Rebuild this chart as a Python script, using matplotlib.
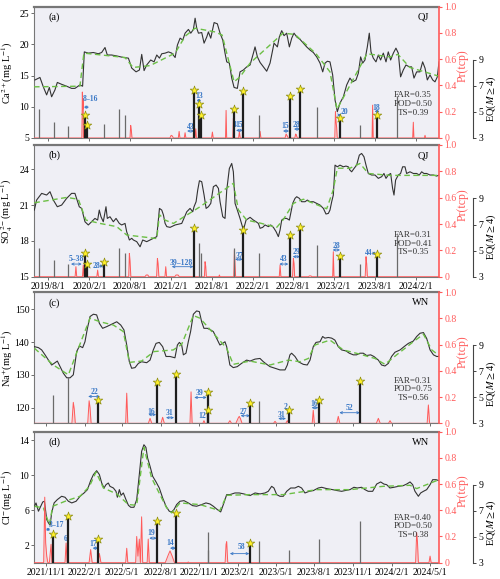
import matplotlib.pyplot as plt
import matplotlib.dates as mdates
import pandas as pd

plt.rcParams['font.family'] = 'serif'
plt.rcParams['font.serif'] = ['Liberation Serif', 'DejaVu Serif']
plt.rcParams['mathtext.fontset'] = 'stix'

# ---------------- data (time as decimal year) ----------------
# QJ Ca2+
ca_t = [2019.418, 2019.479, 2019.520, 2019.561, 2019.594, 2019.622, 2019.663, 2019.692, 2019.745, 2019.806,
        2019.867, 2019.908, 2019.969, 2020.002, 2020.023, 2020.072, 2020.133, 2020.194, 2020.235, 2020.276,
        2020.304, 2020.357, 2020.419, 2020.500, 2020.562, 2020.603, 2020.656, 2020.697, 2020.725, 2020.754,
        2020.786, 2020.835, 2020.876, 2020.909, 2020.942, 2020.970, 2021.011, 2021.052, 2021.093, 2021.134,
        2021.162, 2021.195, 2021.228, 2021.256, 2021.297, 2021.326, 2021.358, 2021.379, 2021.399, 2021.420,
        2021.460, 2021.489, 2021.522, 2021.542, 2021.571, 2021.612, 2021.652, 2021.685, 2021.718, 2021.746,
        2021.767, 2021.799, 2021.828, 2021.857, 2021.897, 2021.930, 2021.971, 2022.012, 2022.053,
        2022.094, 2022.114, 2022.143, 2022.176, 2022.216, 2022.257, 2022.298, 2022.347, 2022.388, 2022.412,
        2022.441, 2022.470, 2022.502, 2022.535, 2022.564, 2022.592, 2022.625, 2022.666, 2022.707, 2022.747,
        2022.788, 2022.829, 2022.870, 2022.911, 2022.944, 2022.972, 2023.001, 2023.033, 2023.066, 2023.095,
        2023.123, 2023.156, 2023.197, 2023.238, 2023.278, 2023.311, 2023.352, 2023.381, 2023.409, 2023.434,
        2023.462, 2023.491, 2023.515, 2023.536, 2023.564, 2023.597, 2023.626, 2023.654, 2023.687, 2023.720,
        2023.748, 2023.777, 2023.810, 2023.842, 2023.871, 2023.899, 2023.932, 2023.965, 2024.006, 2024.034,
        2024.063, 2024.096, 2024.136, 2024.169, 2024.198, 2024.226, 2024.259, 2024.292, 2024.320, 2024.349,
        2024.369]
ca_v = [14.3, 14.7, 13.2, 11.9, 13.1, 11.6, 12.7, 13.9, 13.6, 13.3,
        12.95, 12.95, 13.5, 13.3, 18.8, 18.6, 18.7, 18.5, 18.7, 19.5,
        18.3, 18.3, 18.15, 17.9, 17.8, 16.2, 15.6, 15.9, 18.4, 15.8,
        16.7, 17.5, 17.2, 18.3, 17.8, 18.5, 18.6, 18.8, 18.6, 17.9,
        19.9, 21.0, 20.7, 21.8, 22.4, 21.8, 22.4, 24.2, 22.6, 21.8,
        21.9, 20.2, 21.2, 22.0, 21.0, 23.5, 23.3, 21.8, 20.7, 18.6,
        17.2, 17.0, 14.6, 13.1, 12.95, 15.6, 15.9, 16.4, 16.7,
        18.6, 19.6, 18.0, 17.1, 16.4, 15.7, 17.0, 20.2, 19.6, 21.2,
        22.2, 21.4, 21.8, 19.6, 21.0, 21.8, 21.2, 20.8, 20.2, 19.6,
        19.1, 18.7, 18.0, 17.0, 15.6, 17.0, 17.3, 17.2, 15.1, 11.1,
        9.2, 10.6, 11.6, 13.5, 14.6, 14.0, 14.3, 15.4, 18.0, 17.0,
        17.5, 19.6, 21.8, 18.8, 17.8, 17.2, 18.3, 17.5, 18.6, 17.2,
        18.8, 17.5, 18.6, 19.4, 18.6, 14.8, 15.9, 16.7, 16.4, 16.4,
        14.6, 15.6, 15.6, 17.2, 16.2, 14.3, 15.1, 14.3, 14.0, 14.8,
        17.2]
ca_trend_t = [2019.406, 2019.969, 2020.018, 2020.521, 2020.619, 2020.827, 2021.134, 2021.256, 2021.379, 2021.624,
              2021.710, 2021.857, 2021.930, 2022.053, 2022.457, 2022.604, 2022.862, 2023.033, 2023.119, 2023.487,
              2023.768, 2023.866, 2024.014, 2024.369]
ca_trend_v = [13.2, 13.3, 18.6, 17.9, 16.3, 16.6, 18.6, 21.3, 22.6, 22.0,
              21.5, 14.0, 14.8, 17.0, 21.8, 21.6, 18.5, 15.6, 9.6, 18.5,
              18.0, 18.4, 16.3, 14.9]
pr_a_t = [2019.406, 2019.993, 2019.999, 2020.004, 2020.008, 2020.013,
          2020.582, 2020.590, 2020.598, 2020.606,
          2021.070, 2021.085, 2021.100, 2021.112,
          2021.173, 2021.183, 2021.193, 2021.246, 2021.256, 2021.266,
          2021.377, 2021.387, 2021.395, 2021.581, 2021.591, 2021.601,
          2021.752, 2021.759, 2021.766, 2021.841, 2021.848, 2021.855,
          2021.912, 2021.922, 2021.932, 2022.166, 2022.176, 2022.186,
          2022.482, 2022.495, 2022.505, 2022.520, 2022.602, 2022.612, 2022.620, 2022.632,
          2023.092, 2023.100, 2023.108, 2023.115, 2023.122,
          2023.549, 2023.556, 2023.563, 2024.047, 2024.055, 2024.062,
          2024.190, 2024.198, 2024.206, 2024.369]
pr_a_v = [0, 0, 0.35, 0.22, 0.30, 0,
          0, 0.096, 0.06, 0,
          0, 0.02, 0.015, 0,
          0, 0.05, 0, 0, 0.04, 0,
          0, 0.07, 0, 0, 0.045, 0,
          0, 0.21, 0, 0, 0.15, 0,
          0, 0.05, 0, 0, 0.05, 0,
          0, 0.03, 0.02, 0, 0, 0.03, 0.025, 0,
          0, 0.20, 0.12, 0.08, 0,
          0, 0.25, 0, 0, 0.12, 0,
          0, 0.02, 0, 0]

# QJ SO4 2-
so4_t = [2019.410, 2019.438, 2019.500, 2019.561, 2019.602, 2019.643, 2019.692, 2019.745, 2019.806, 2019.867,
         2019.908, 2019.961, 2019.990, 2020.031, 2020.072, 2020.112, 2020.153, 2020.186, 2020.206, 2020.227,
         2020.255, 2020.288, 2020.304, 2020.337, 2020.378, 2020.411, 2020.451, 2020.480, 2020.521, 2020.541,
         2020.574, 2020.603, 2020.623, 2020.664, 2020.705, 2020.737, 2020.786, 2020.827, 2020.868, 2020.909,
         2020.942, 2020.970, 2020.991, 2021.011, 2021.032, 2021.072, 2021.134, 2021.215, 2021.277, 2021.317,
         2021.350, 2021.366, 2021.391, 2021.411, 2021.432, 2021.460, 2021.489, 2021.514, 2021.542, 2021.571,
         2021.603, 2021.636, 2021.665, 2021.685, 2021.718, 2021.746, 2021.767, 2021.799, 2021.828, 2021.848,
         2021.869, 2021.897, 2021.930, 2021.971, 2022.004, 2022.053,
         2022.094, 2022.127, 2022.155, 2022.176, 2022.208, 2022.237, 2022.278, 2022.306, 2022.339, 2022.372,
         2022.400, 2022.421, 2022.441, 2022.470, 2022.502, 2022.535, 2022.551, 2022.576, 2022.604, 2022.625,
         2022.658, 2022.686, 2022.727, 2022.756, 2022.788, 2022.829, 2022.870, 2022.911, 2022.952, 2022.984,
         2023.013, 2023.033, 2023.054, 2023.074, 2023.095, 2023.123, 2023.156, 2023.197, 2023.229, 2023.258,
         2023.278, 2023.299, 2023.328, 2023.360, 2023.393, 2023.421, 2023.450, 2023.475, 2023.503, 2023.544,
         2023.585, 2023.626, 2023.667, 2023.695, 2023.720, 2023.748, 2023.777, 2023.801, 2023.818, 2023.838,
         2023.871, 2023.899, 2023.924, 2023.953, 2023.973, 2024.014, 2024.055, 2024.096, 2024.128, 2024.157,
         2024.185, 2024.218, 2024.259, 2024.300, 2024.341, 2024.369]
so4_v = [20.59, 21.43, 21.99, 21.85, 22.13, 21.43, 20.87, 21.01, 21.57, 21.99,
         21.99, 20.87, 20.73, 19.61, 19.34, 19.61, 19.89, 19.75, 20.59, 20.03,
         19.61, 20.87, 19.89, 20.03, 19.61, 19.89, 19.47, 19.34, 19.47, 18.78,
         18.08, 18.22, 18.08, 17.94, 17.51, 18.08, 17.94, 18.08, 18.22, 18.36,
         20.73, 20.59, 20.17, 19.47, 19.20, 19.14, 19.34, 19.47, 20.45, 20.73,
         20.45, 20.87, 21.29, 22.27, 23.05, 22.97, 21.85, 20.73, 20.87, 21.15,
         22.55, 22.69, 22.41, 21.29, 20.03, 19.89, 22.27, 24.08, 24.50, 23.80,
         21.15, 20.59, 19.89, 18.92, 19.75, 19.98,
         19.75, 19.61, 19.47, 19.06, 19.14, 19.34, 19.20, 19.34, 19.14, 18.78,
         18.36, 18.92, 19.75, 19.89, 19.89, 19.75, 20.31, 21.15, 21.57, 21.71,
         21.57, 21.29, 21.29, 21.43, 21.29, 21.29, 21.15, 21.01, 20.73, 20.26,
         20.31, 20.59, 21.29, 21.85, 24.36, 24.22, 24.36, 24.22, 24.28, 24.22,
         23.94, 23.80, 24.08, 24.36, 25.20, 25.34, 25.06, 24.36, 23.66, 23.53,
         23.53, 23.25, 23.39, 23.66, 23.25, 23.53, 23.66, 22.41, 21.85, 23.11,
         23.53, 23.66, 24.22, 24.22, 23.66, 23.80, 23.66, 23.66, 23.53, 23.80,
         23.66, 23.66, 23.53, 23.53, 23.44, 23.53]
so4_trend_t = [2019.410, 2019.806, 2019.949, 2020.043, 2020.214, 2020.419, 2020.541, 2020.909, 2020.942, 2021.011,
               2021.113, 2021.440, 2021.848, 2021.910, 2022.012, 2022.176, 2022.380, 2022.462, 2022.584, 2022.707,
               2022.993, 2023.074, 2023.123, 2023.278, 2023.401, 2023.503, 2023.769, 2024.369]
so4_trend_v = [21.2, 21.65, 21.5, 19.75, 19.47, 19.2, 18.5, 18.2, 20.2, 19.75,
               19.47, 20.87, 22.83, 20.6, 19.75, 19.5, 19.14, 19.8, 21.15, 21.5,
               20.7, 22.3, 24.1, 24.1, 24.5, 23.66, 23.5, 23.5]
pr_b_t = [2019.406, 2019.910, 2019.920, 2019.930, 2020.000, 2020.010, 2020.018,
          2020.176, 2020.186, 2020.196, 2020.566, 2020.574, 2020.582, 2020.592,
          2020.765, 2020.780, 2020.800, 2020.812, 2020.907, 2020.917, 2020.925, 2020.935,
          2021.009, 2021.019, 2021.029, 2021.130, 2021.145, 2021.170, 2021.185,
          2021.493, 2021.501, 2021.509, 2021.517, 2021.670, 2021.677, 2021.684,
          2021.853, 2021.861, 2021.868, 2021.876, 2022.411, 2022.421, 2022.431,
          2022.574, 2022.584, 2022.592, 2022.600, 2022.770, 2022.780, 2022.800, 2022.810,
          2023.066, 2023.074, 2023.082, 2023.465, 2023.475, 2023.483, 2023.492, 2024.369]
pr_b_v = [0, 0, 0.076, 0, 0, 0.089, 0,
          0, 0.05, 0, 0, 0.177, 0.12, 0,
          0, 0.013, 0.013, 0, 0, 0.139, 0.10, 0,
          0, 0.076, 0, 0, 0.013, 0.013, 0,
          0, 0.114, 0.08, 0, 0, 0.013, 0,
          0, 0.20, 0.10, 0, 0, 0.089, 0,
          0, 0.139, 0.10, 0, 0, 0.006, 0.006, 0,
          0, 0.19, 0, 0, 0.152, 0.10, 0, 0]

# QJ earthquakes
qj_eq_t = [2019.471, 2019.655, 2019.826, 2020.031, 2020.059, 2020.267, 2020.447, 2020.517, 2021.370, 2021.428,
           2021.452, 2021.857, 2021.971, 2022.159, 2022.543, 2022.666, 2022.870, 2023.156, 2023.401, 2023.605,
           2023.860]
qj_eq_m = [5.2, 4.25, 3.95, 4.8, 4.0, 4.1, 5.2, 4.8, 6.7, 5.6,
           4.8, 5.2, 6.6, 4.8, 6.2, 6.8, 5.4, 4.55, 4.0, 4.75,
           6.2]
hit_a = [0, 0, 0, 1, 1, 0, 0, 0, 1, 1, 1, 1, 1, 0, 1, 1, 0, 1, 0, 1, 0]
hit_b = [0, 0, 0, 1, 1, 1, 0, 0, 1, 0, 0, 0, 1, 0, 1, 1, 0, 1, 0, 1, 0]

# WN Na+
na_t = [2021.758, 2021.784, 2021.805, 2021.827, 2021.849, 2021.870, 2021.886, 2021.907, 2021.925, 2021.946,
        2021.968, 2021.990, 2022.011, 2022.033, 2022.051, 2022.072, 2022.087, 2022.103, 2022.120, 2022.142,
        2022.163, 2022.181, 2022.202, 2022.228, 2022.250, 2022.272, 2022.294, 2022.320, 2022.341, 2022.359,
        2022.376, 2022.391, 2022.413, 2022.435, 2022.456, 2022.489, 2022.511, 2022.532, 2022.550, 2022.571,
        2022.593, 2022.615, 2022.641, 2022.673, 2022.689, 2022.702, 2022.717, 2022.728, 2022.745, 2022.760,
        2022.775, 2022.793, 2022.814, 2022.832, 2022.847, 2022.862, 2022.884, 2022.906, 2022.923, 2022.945,
        2022.966, 2022.984, 2022.999, 2023.010, 2023.031, 2023.053, 2023.079, 2023.107, 2023.140, 2023.162,
        2023.195, 2023.227, 2023.249, 2023.271, 2023.292, 2023.325, 2023.357, 2023.390, 2023.405, 2023.422,
        2023.433, 2023.455, 2023.477, 2023.509, 2023.535, 2023.553, 2023.574, 2023.592, 2023.618, 2023.635,
        2023.650, 2023.672, 2023.694, 2023.715, 2023.737, 2023.759, 2023.787, 2023.809, 2023.835, 2023.856,
        2023.878, 2023.900, 2023.922, 2023.948, 2023.969, 2023.998, 2024.019, 2024.041, 2024.063, 2024.084,
        2024.106, 2024.139, 2024.165, 2024.193, 2024.225, 2024.247, 2024.269, 2024.291, 2024.312, 2024.334,
        2024.356, 2024.377, 2024.392]
na_v = [138.6, 138.3, 137.6, 136.1, 134.5, 133.0, 133.5, 134.2, 132.5, 130.5,
        129.1, 129.1, 130.0, 137.1, 138.8, 138.3, 140.1, 144.2, 147.8, 148.5,
        148.3, 145.7, 144.2, 144.7, 145.2, 145.7, 146.2, 145.2, 143.7, 139.1,
        134.0, 132.0, 132.2, 133.5, 134.0, 133.7, 134.5, 137.6, 139.6, 139.9,
        138.6, 135.6, 135.6, 135.2, 139.1, 139.9, 139.1, 136.1, 136.6, 140.1,
        143.2, 148.5, 149.5, 149.3, 146.2, 144.2, 144.2, 143.7, 143.2, 141.1,
        139.1, 139.6, 140.1, 138.6, 133.0, 132.2, 132.5, 133.5, 134.5, 134.2,
        134.8, 135.0, 134.0, 133.2, 132.5, 132.0, 131.5, 131.5, 133.0, 136.1,
        136.6, 135.6, 134.0, 133.2, 133.0, 134.5, 138.6, 139.9, 140.1, 141.7,
        141.2, 141.4, 141.2, 140.6, 138.6, 137.6, 137.3, 136.6, 136.1, 136.1,
        136.6, 136.6, 135.9, 136.1, 135.6, 134.5, 133.0, 132.7, 133.5, 135.6,
        136.9, 137.6, 138.6, 139.6, 140.3, 141.7, 142.7, 142.9, 141.1, 137.6,
        136.1, 135.6, 135.6]
na_trend_t = [2021.758, 2021.881, 2021.979, 2022.044, 2022.120, 2022.185, 2022.272, 2022.337, 2022.376, 2022.456,
              2022.537, 2022.662, 2022.717, 2022.793, 2022.836, 2022.923, 2023.010, 2023.053, 2023.162, 2023.292,
              2023.412, 2023.488, 2023.542, 2023.585, 2023.683, 2023.770, 2023.878, 2023.976, 2024.041, 2024.117,
              2024.225, 2024.291, 2024.345, 2024.392]
na_trend_v = [138.1, 133.0, 130.0, 138.1, 147.3, 146.2, 145.2, 143.2, 133.8, 134.2,
              137.1, 137.6, 139.3, 148.1, 147.3, 142.7, 138.1, 133.2, 134.2, 133.0,
              134.5, 134.0, 135.0, 139.1, 140.6, 137.6, 136.3, 135.0, 133.2, 136.1,
              140.1, 142.4, 137.6, 135.9]
pr_c_t = [2021.755, 2022.002, 2022.011, 2022.017, 2022.024, 2022.105, 2022.114, 2022.120, 2022.127,
          2022.352, 2022.359, 2022.366, 2022.500, 2022.511, 2022.522, 2022.582, 2022.593, 2022.604,
          2022.771, 2022.778, 2022.785, 2022.855, 2022.862, 2022.869, 2023.020, 2023.031, 2023.042,
          2023.070, 2023.085, 2023.092, 2023.100, 2023.110, 2023.315, 2023.325, 2023.335,
          2023.395, 2023.405, 2023.415, 2023.567, 2023.574, 2023.581, 2023.727, 2023.737, 2023.747,
          2023.985, 2023.998, 2024.010, 2024.064, 2024.074, 2024.084, 2024.315, 2024.323, 2024.331, 2024.392]
pr_c_v = [0, 0, 0.16, 0.11, 0, 0, 0.172, 0.12, 0,
          0, 0.23, 0, 0, 0.038, 0, 0, 0.046, 0,
          0, 0.24, 0, 0, 0.02, 0, 0, 0.02, 0,
          0, 0.04, 0.053, 0.035, 0, 0, 0.015, 0,
          0, 0.02, 0, 0, 0.10, 0, 0, 0.053, 0,
          0, 0.038, 0, 0, 0.02, 0, 0, 0.14, 0, 0]

# WN Cl-
cl_t = [2021.758, 2021.768, 2021.784, 2021.799, 2021.812, 2021.823, 2021.831, 2021.838, 2021.849, 2021.860,
        2021.870, 2021.886, 2021.907, 2021.935, 2021.957, 2021.979, 2022.001, 2022.029, 2022.055, 2022.081,
        2022.103, 2022.124, 2022.142, 2022.163, 2022.181, 2022.196, 2022.211, 2022.224, 2022.239, 2022.250,
        2022.272, 2022.289, 2022.298, 2022.311, 2022.322, 2022.337, 2022.354, 2022.370, 2022.385, 2022.406,
        2022.424, 2022.441, 2022.456, 2022.471, 2022.484, 2022.495, 2022.511, 2022.528, 2022.550, 2022.571,
        2022.593, 2022.615, 2022.636, 2022.652, 2022.667, 2022.684, 2022.706, 2022.732, 2022.760, 2022.788,
        2022.814, 2022.847, 2022.875, 2022.901, 2022.923, 2022.949, 2022.971, 2022.992, 2023.010, 2023.031,
        2023.064, 2023.092, 2023.122, 2023.162,
        2023.195, 2023.227, 2023.260, 2023.281, 2023.303, 2023.318, 2023.336, 2023.357, 2023.379, 2023.401,
        2023.427, 2023.455, 2023.477, 2023.498, 2023.520, 2023.548, 2023.574, 2023.607, 2023.629, 2023.661,
        2023.700, 2023.731, 2023.759, 2023.780, 2023.813, 2023.839, 2023.861, 2023.889, 2023.911, 2023.932,
        2023.961, 2023.987, 2024.013, 2024.034, 2024.052, 2024.073, 2024.099, 2024.128, 2024.160, 2024.182,
        2024.204, 2024.221, 2024.236, 2024.258, 2024.273, 2024.291, 2024.312, 2024.334, 2024.351, 2024.373,
        2024.392]
cl_v = [6.46, 6.84, 5.89, 6.46, 6.95, 7.03, 5.89, 4.93, 4.55, 4.29,
        5.70, 6.84, 7.22, 7.60, 7.49, 7.03, 6.84, 7.03, 7.60, 7.98,
        8.36, 9.39, 10.08, 10.53, 10.08, 9.12, 8.55, 8.93, 9.12, 8.74,
        8.55, 8.17, 7.49, 8.36, 7.71, 7.98, 7.22, 6.57, 6.34, 6.34,
        7.22, 10.08, 12.74, 13.50, 13.20, 11.98, 11.03, 9.89, 9.24, 8.55,
        7.41, 6.46, 5.89, 5.81, 6.08, 6.65, 7.03, 7.10, 6.84, 6.53,
        6.46, 6.65, 6.84, 6.72, 6.46, 6.08, 5.81, 6.84, 7.79, 7.79,
        7.98, 7.98, 7.87, 7.68,
        7.98, 7.87, 7.98, 8.17, 8.74, 8.55, 7.79, 7.60, 7.60, 8.17,
        8.55, 8.55, 8.74, 8.55, 7.98, 8.17, 8.25, 8.55, 8.63, 8.48,
        8.36, 8.25, 8.17, 8.25, 8.36, 8.63, 8.55, 8.63, 8.36, 8.17,
        8.17, 9.00, 9.24, 9.00, 8.93, 8.55, 8.63, 8.74, 8.82, 9.00,
        9.24, 8.93, 8.17, 7.60, 7.98, 8.17, 8.36, 8.93, 9.50, 9.50,
        9.39]
cl_trend_t = [2021.758, 2021.816, 2021.855, 2021.877, 2021.968, 2022.055, 2022.116, 2022.159, 2022.207, 2022.294,
              2022.370, 2022.424, 2022.471, 2022.521, 2022.619, 2022.652, 2022.706, 2022.836, 2022.966, 2023.010,
              2023.162, 2023.379, 2023.596, 2023.813, 2024.030, 2024.204, 2024.247, 2024.392]
cl_trend_v = [6.46, 6.27, 4.36, 6.46, 7.1, 7.6, 8.74, 10.38, 8.55, 7.87,
              6.65, 6.57, 13.2, 9.7, 6.27, 5.70, 6.84, 6.65, 5.96, 7.71,
              7.79, 7.79, 8.36, 8.36, 8.74, 8.86, 8.48, 9.5]
pr_d_t = [2021.755, 2021.818, 2021.825, 2021.831, 2021.838, 2021.845, 2021.855, 2021.866, 2021.872,
          2021.957, 2021.964, 2021.971, 2022.114, 2022.124, 2022.134, 2022.171, 2022.181, 2022.191,
          2022.352, 2022.359, 2022.366, 2022.417, 2022.424, 2022.432, 2022.441, 2022.448, 2022.456, 2022.463,
          2022.492, 2022.499, 2022.506, 2022.610, 2022.630, 2022.641, 2022.655, 2022.670,
          2022.755, 2022.760, 2022.765, 2023.000, 2023.006, 2023.010, 2023.017,
          2024.240, 2024.247, 2024.252, 2024.258, 2024.327, 2024.334, 2024.341, 2024.392]
pr_d_v = [0, 0, 0.50, 0.15, 0.05, 0, 0, 0.14, 0,
          0, 0.15, 0, 0, 0.10, 0, 0, 0.07, 0,
          0, 0.11, 0, 0, 0.20, 0.05, 0.18, 0, 0.35, 0,
          0, 0.18, 0, 0, 0.06, 0.09, 0.05, 0,
          0, 0.005, 0, 0, 0.14, 0.16, 0,
          0, 0.23, 0.16, 0, 0, 0.05, 0, 0]

# WN earthquakes
wn_eq_t = [2021.877, 2021.978, 2022.173, 2022.554, 2022.679, 2022.886, 2022.890, 2023.161, 2023.222, 2023.415,
           2023.612, 2023.877]
wn_eq_m = [5.2, 6.6, 4.8, 6.2, 6.8, 5.4, 4.0, 4.55, 4.7, 4.0, 4.8, 6.25]
hit_c = [0, 0, 1, 1, 1, 1, 1, 1, 0, 1, 1, 1]
hit_d = [1, 1, 1, 1, 1, 0, 0, 1, 0, 0, 0, 0]

# lead-time notes: label, text x, text y (Pr), arrow start, arrow end, arrow y
notes_a = [('8–16', 2020.093, 0.294, 2020.018, 2020.080, 0.235),
           ('13', 2021.432, 0.317, 2021.398, 2021.453, 0.286),
           ('43', 2021.326, 0.083, 2021.281, 2021.367, 0.053),
           ('4', 2021.862, 0.096, None, None, None),
           ('15', 2021.915, 0.096, 2021.881, 2021.967, 0.058),
           ('15', 2022.482, 0.089, 2022.457, 2022.531, 0.053),
           ('28', 2022.625, 0.096, 2022.592, 2022.666, 0.068),
           ('20', 2023.205, 0.197, 2023.125, 2023.165, 0.175),
           ('18', 2023.605, 0.231, 2023.580, 2023.641, 0.203)]
notes_b = [('5–38', 2019.929, 0.132, 2019.860, 2019.991, 0.096),
           ('28', 2020.170, 0.081, 2020.205, 2020.255, 0.081),
           ('39–128', 2021.215, 0.106, 2021.093, 2021.358, 0.076),
           ('37', 2021.918, 0.157, 2021.869, 2021.963, 0.132),
           ('43', 2022.461, 0.132, 2022.412, 2022.522, 0.096),
           ('29', 2022.625, 0.190, 2022.576, 2022.666, 0.152),
           ('28', 2023.107, 0.233, 2023.066, 2023.156, 0.203),
           ('44', 2023.503, 0.178, 2023.544, 2023.597, 0.178)]
notes_c = [('22', 2022.146, 0.241, 2022.108, 2022.185, 0.205),
           ('16', 2022.521, 0.089, 2022.500, 2022.550, 0.066),
           ('31', 2022.636, 0.076, 2022.615, 2022.667, 0.043),
           ('39', 2022.836, 0.228, 2022.799, 2022.880, 0.197),
           ('12', 2022.853, 0.053, None, None, None),
           ('27', 2023.122, 0.089, 2023.101, 2023.162, 0.058),
           ('31', 2023.367, 0.064, 2023.346, 2023.396, 0.036),
           ('2', 2023.396, 0.121, None, None, None),
           ('16', 2023.578, 0.147, 2023.563, 2023.607, 0.119),
           ('52', 2023.808, 0.114, 2023.744, 2023.878, 0.081)]
notes_d = [('3–17', 2021.903, 0.289, 2021.833, 2021.860, 0.254),
           ('6', 2021.959, 0.183, None, None, None),
           ('17', 2022.141, 0.145, 2022.137, 2022.173, 0.111),
           ('19', 2022.521, 0.225, 2022.506, 2022.554, 0.187),
           ('14', 2022.645, 0.149, 2022.641, 2022.679, 0.111),
           ('58', 2023.107, 0.119, 2023.031, 2023.157, 0.069)]

far = [0.35, 0.31, 0.31, 0.40]
pod = [0.50, 0.41, 0.75, 0.50]
ts = [0.39, 0.35, 0.56, 0.38]

qj_ticks = ['2019-08-01', '2020-02-01', '2020-08-01', '2021-02-01', '2021-08-01',
            '2022-02-01', '2022-08-01', '2023-02-01', '2023-08-01', '2024-02-01']
wn_ticks = ['2021-11-01', '2022-02-01', '2022-05-01', '2022-08-01', '2022-11-01', '2023-02-01',
            '2023-05-01', '2023-08-01', '2023-11-01', '2024-02-01', '2024-05-01']


def to_dt(years):
    out = []
    for y in years:
        yr = int(y)
        t0 = pd.Timestamp(yr, 1, 1)
        out.append(t0 + (pd.Timestamp(yr + 1, 1, 1) - t0) * (y - yr))
    return out


def to_num(y):
    return mdates.date2num(to_dt([y])[0])


BLUE = '#3a78c6'
RED = '#ff5a5a'
GREY = '#777777'

fig = plt.figure(figsize=(5, 5.79), dpi=100)


def draw_panel(rect, tag, site, t, v, trend_t, trend_v, pr_t, pr_v, eq_t, eq_m, hit,
               ylim, yticks, ylabel, xlim, xticks, show_dates, notes, k, score_y):
    ax = fig.add_axes(rect)
    ax.set_facecolor('#efeff5')
    ax.plot(to_dt(t), v, color='#333333', lw=0.8, zorder=3)
    ax.plot(to_dt(trend_t), trend_v, color='#6cbf45', lw=1.0, ls=(0, (4, 2.5)), zorder=4)
    ax.set_xlim(to_dt(xlim))
    ax.set_ylim(ylim)
    ax.set_yticks(yticks)
    ax.set_ylabel(ylabel, fontsize=7.5)
    ax.yaxis.set_label_coords(-0.046, 0.5)
    tick_dates = pd.to_datetime(xticks)
    ax.set_xticks(tick_dates)
    if show_dates:
        ax.set_xticklabels([f'{d.year}/{d.month}/{d.day}' for d in tick_dates])
    else:
        ax.set_xticklabels([])
    ax.tick_params(labelsize=7, length=2.5, width=0.6, color='#555555', pad=1.5)
    ax.tick_params(axis='y', pad=0.8)
    for side in ['left', 'bottom']:
        ax.spines[side].set_color(GREY)
        ax.spines[side].set_linewidth(0.8)
    ax.spines['top'].set_color(GREY)
    ax.spines['top'].set_linewidth(1.6)
    ax.spines['right'].set_visible(False)
    ax.text(0.035, 0.9, tag, transform=ax.transAxes, fontsize=7.5)
    ax.text(0.975, 0.9, site, transform=ax.transAxes, fontsize=7.5, ha='right')

    # probability axis
    ax2 = ax.twinx()
    pdt = to_dt(pr_t)
    ax2.fill_between(pdt, pr_v, color='#ff9c9c', alpha=0.35, lw=0)
    ax2.plot(pdt, pr_v, color=RED, lw=0.7)
    ax2.set_ylim(0, 1)
    ax2.set_yticks([0, 0.2, 0.4, 0.6, 0.8, 1.0])
    ax2.set_yticklabels(['0', '0.2', '0.4', '0.6', '0.8', '1.0'])
    ax2.tick_params(axis='y', colors=RED, labelsize=7, length=2.5, width=0.8, pad=1.5)
    for side in ['left', 'top', 'bottom']:
        ax2.spines[side].set_visible(False)
    ax2.spines['right'].set_color(RED)
    ax2.spines['right'].set_linewidth(1.2)
    ax2.set_ylabel('Pr(tcp)', color=RED, fontsize=8.5)
    ax2.yaxis.set_label_coords(1.044, 0.55)

    for lab, tx, ty, a1, a2, ay in notes:
        ax2.text(to_num(tx), ty, lab, color=BLUE, fontsize=5.5, fontweight='bold',
                 ha='center', va='center', zorder=6)
        if a1 is not None:
            ax2.annotate('', xy=(to_num(a2), ay), xytext=(to_num(a1), ay),
                         arrowprops=dict(arrowstyle='<->', color=BLUE, lw=0.6,
                                         shrinkA=0, shrinkB=0, mutation_scale=4))
    ax2.text(0.936, score_y, f'FAR={far[k]:.2f}', transform=ax2.transAxes,
             fontsize=6.5, ha='center', va='center', color='#333333')
    ax2.text(0.936, score_y - 0.066, f'POD={pod[k]:.2f}', transform=ax2.transAxes,
             fontsize=6.5, ha='center', va='center', color='#333333')
    ax2.text(0.936, score_y - 0.132, f'TS={ts[k]:.2f}', transform=ax2.transAxes,
             fontsize=6.5, ha='center', va='center', color='#333333')

    # earthquake axis
    ax3 = ax.twinx()
    ax3.set_ylim(3, 13.1)
    edt = to_dt(eq_t)
    miss_t = [d for d, h in zip(edt, hit) if not h]
    miss_m = [m for m, h in zip(eq_m, hit) if not h]
    hit_t = [d for d, h in zip(edt, hit) if h]
    hit_m = [m for m, h in zip(eq_m, hit) if h]
    ax3.vlines(miss_t, 3, miss_m, color='#6a6a6a', lw=0.9)
    ax3.vlines(hit_t, 3, hit_m, color='#1e1e1e', lw=1.6)
    ax3.scatter(hit_t, hit_m, marker='*', s=42, color='#fff02a', edgecolors='#8c8c10',
                linewidths=0.5, zorder=5)
    for side in ['left', 'top', 'bottom']:
        ax3.spines[side].set_visible(False)
    ax3.spines['right'].set_position(('axes', 1.083))
    ax3.spines['right'].set_bounds(3, 9)
    ax3.spines['right'].set_color('#444444')
    ax3.set_yticks([3, 5, 7, 9])
    ax3.tick_params(axis='y', labelsize=7, length=2.5, width=0.7, color='#444444', pad=1.5)
    ax3.set_ylabel(r'EQ($M\geq$4)', fontsize=7.5)
    ax3.yaxis.set_label_coords(1.113, 0.3)
    return ax


qj_lim = [2019.406, 2024.369]
wn_lim = [2021.755, 2024.392]

draw_panel([0.068, 0.7617, 0.81, 0.2268], '(a)', 'QJ', ca_t, ca_v, ca_trend_t, ca_trend_v,
           pr_a_t, pr_a_v, qj_eq_t, qj_eq_m, hit_a, (5, 26.05), [5, 10, 15, 20, 25],
           r'Ca$^{2+}$(mg L$^{-1}$)', qj_lim, qj_ticks, False, notes_a, 0, 0.325)
draw_panel([0.068, 0.5221, 0.81, 0.2275], '(b)', 'QJ', so4_t, so4_v, so4_trend_t, so4_trend_v,
           pr_b_t, pr_b_v, qj_eq_t, qj_eq_m, hit_b, (15, 26.05), [15, 18, 21, 24],
           r'SO$_4^{\,2-}$(mg L$^{-1}$)', qj_lim, qj_ticks, True, notes_b, 1, 0.318)
draw_panel([0.068, 0.2689, 0.81, 0.2263], '(c)', 'WN', na_t, na_v, na_trend_t, na_trend_v,
           pr_c_t, pr_c_v, wn_eq_t, wn_eq_m, hit_c, (115.2, 155.2), [120, 130, 140, 150],
           r'Na$^{+}$(mg L$^{-1}$)', wn_lim, wn_ticks, False, notes_c, 2, 0.325)
draw_panel([0.068, 0.0282, 0.81, 0.2263], '(d)', 'WN', cl_t, cl_v, cl_trend_t, cl_trend_v,
           pr_d_t, pr_d_v, wn_eq_t, wn_eq_m, hit_d, (0, 15), [2, 6, 10, 14],
           r'Cl$^{-}$(mg L$^{-1}$)', wn_lim, wn_ticks, True, notes_d, 3, 0.343)

fig.savefig('out.png', dpi=100)
